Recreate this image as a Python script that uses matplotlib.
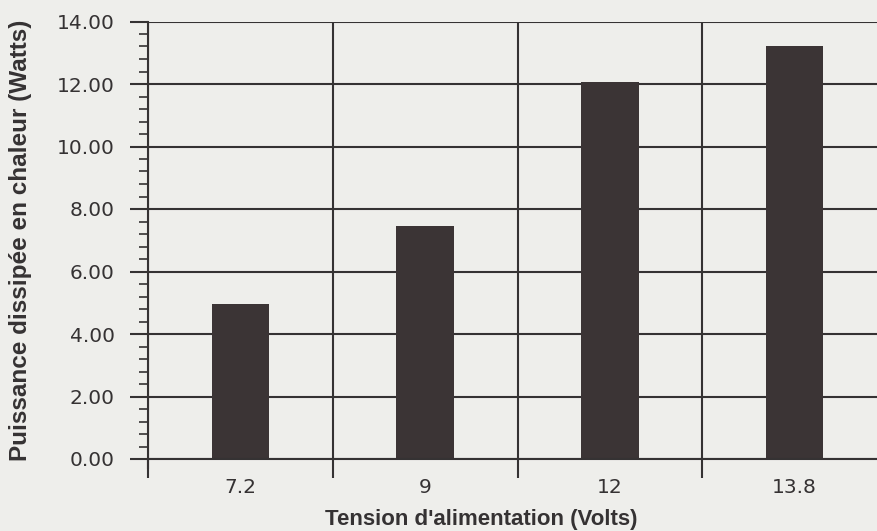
import matplotlib
matplotlib.use("Agg")
import matplotlib.pyplot as plt
from matplotlib.ticker import MultipleLocator, FixedLocator

categories = ["7.2", "9", "12", "13.8"]
values = [4.95, 7.47, 12.07, 13.23]
yticks = [0, 2, 4, 6, 8, 10, 12, 14]
ytick_labels = ["0.00", "2.00", "4.00", "6.00", "8.00", "10.00", "12.00", "14.00"]
xlabel = "Tension d'alimentation (Volts)"
ylabel = "Puissance dissipée en chaleur (Watts)"

bg = "#eeeeeb"
ink = "#353233"
bar_color = "#3b3435"

fig = plt.figure(figsize=(8.77, 5.31), dpi=100, facecolor=bg)
W, H = 877, 531
left, right, top, bottom = 148, 887, 21.5, 459
ax = fig.add_axes([left / W, (H - bottom) / H, (right - left) / W, (bottom - top) / H])
ax.set_facecolor(bg)

x = list(range(len(categories)))
ax.bar(x, values, width=0.31, color=bar_color, zorder=3)

ax.set_xlim(-0.5, len(categories) - 0.5)
ax.set_ylim(0, 14)

ax.set_yticks(yticks)
ax.set_yticklabels(ytick_labels)
ax.yaxis.set_minor_locator(MultipleLocator(0.4))
ax.set_xticks(x)
ax.set_xticklabels(categories)
ax.xaxis.set_minor_locator(FixedLocator([i - 0.5 for i in range(len(categories) + 1)]))

for lab in ax.get_xticklabels() + ax.get_yticklabels():
    lab.set_fontfamily(["DejaVu Sans"])
    lab.set_fontsize(14.5)
    lab.set_color(ink)

ax.tick_params(axis="y", which="major", direction="out", length=13, width=1.5, color=ink, pad=11)
ax.tick_params(axis="y", which="minor", direction="out", length=6.5, width=1.2, color=ink)
ax.tick_params(axis="x", which="major", length=0, pad=14)
ax.tick_params(axis="x", which="minor", direction="out", length=14, width=1.5, color=ink)

ax.grid(axis="y", which="major", color=ink, linewidth=1.5, zorder=1)
ax.grid(axis="x", which="minor", color=ink, linewidth=1.5, zorder=1)
ax.set_axisbelow(True)

for s in ["top", "right"]:
    ax.spines[s].set_visible(False)
for s in ["left", "bottom"]:
    ax.spines[s].set_color(ink)
    ax.spines[s].set_linewidth(1.5)
    ax.spines[s].set_zorder(4)
ax.spines["left"].set_bounds(-0.3, 14)

ax.set_xlabel(xlabel, fontfamily=["Liberation Sans", "DejaVu Sans"], fontweight="bold", fontsize=16, color=ink)
ax.set_ylabel(ylabel, fontfamily=["Liberation Sans", "DejaVu Sans"], fontweight="bold", fontsize=17.5, color=ink)
ax.xaxis.set_label_coords((481 - left) / (right - left), -(519 - bottom) / (bottom - top))
ax.yaxis.set_label_coords((21 - left) / (right - left), 0.5)
ax.xaxis.label.set_va("center")
ax.yaxis.label.set_va("center")

fig.savefig("out.png", dpi=100, facecolor=bg)
